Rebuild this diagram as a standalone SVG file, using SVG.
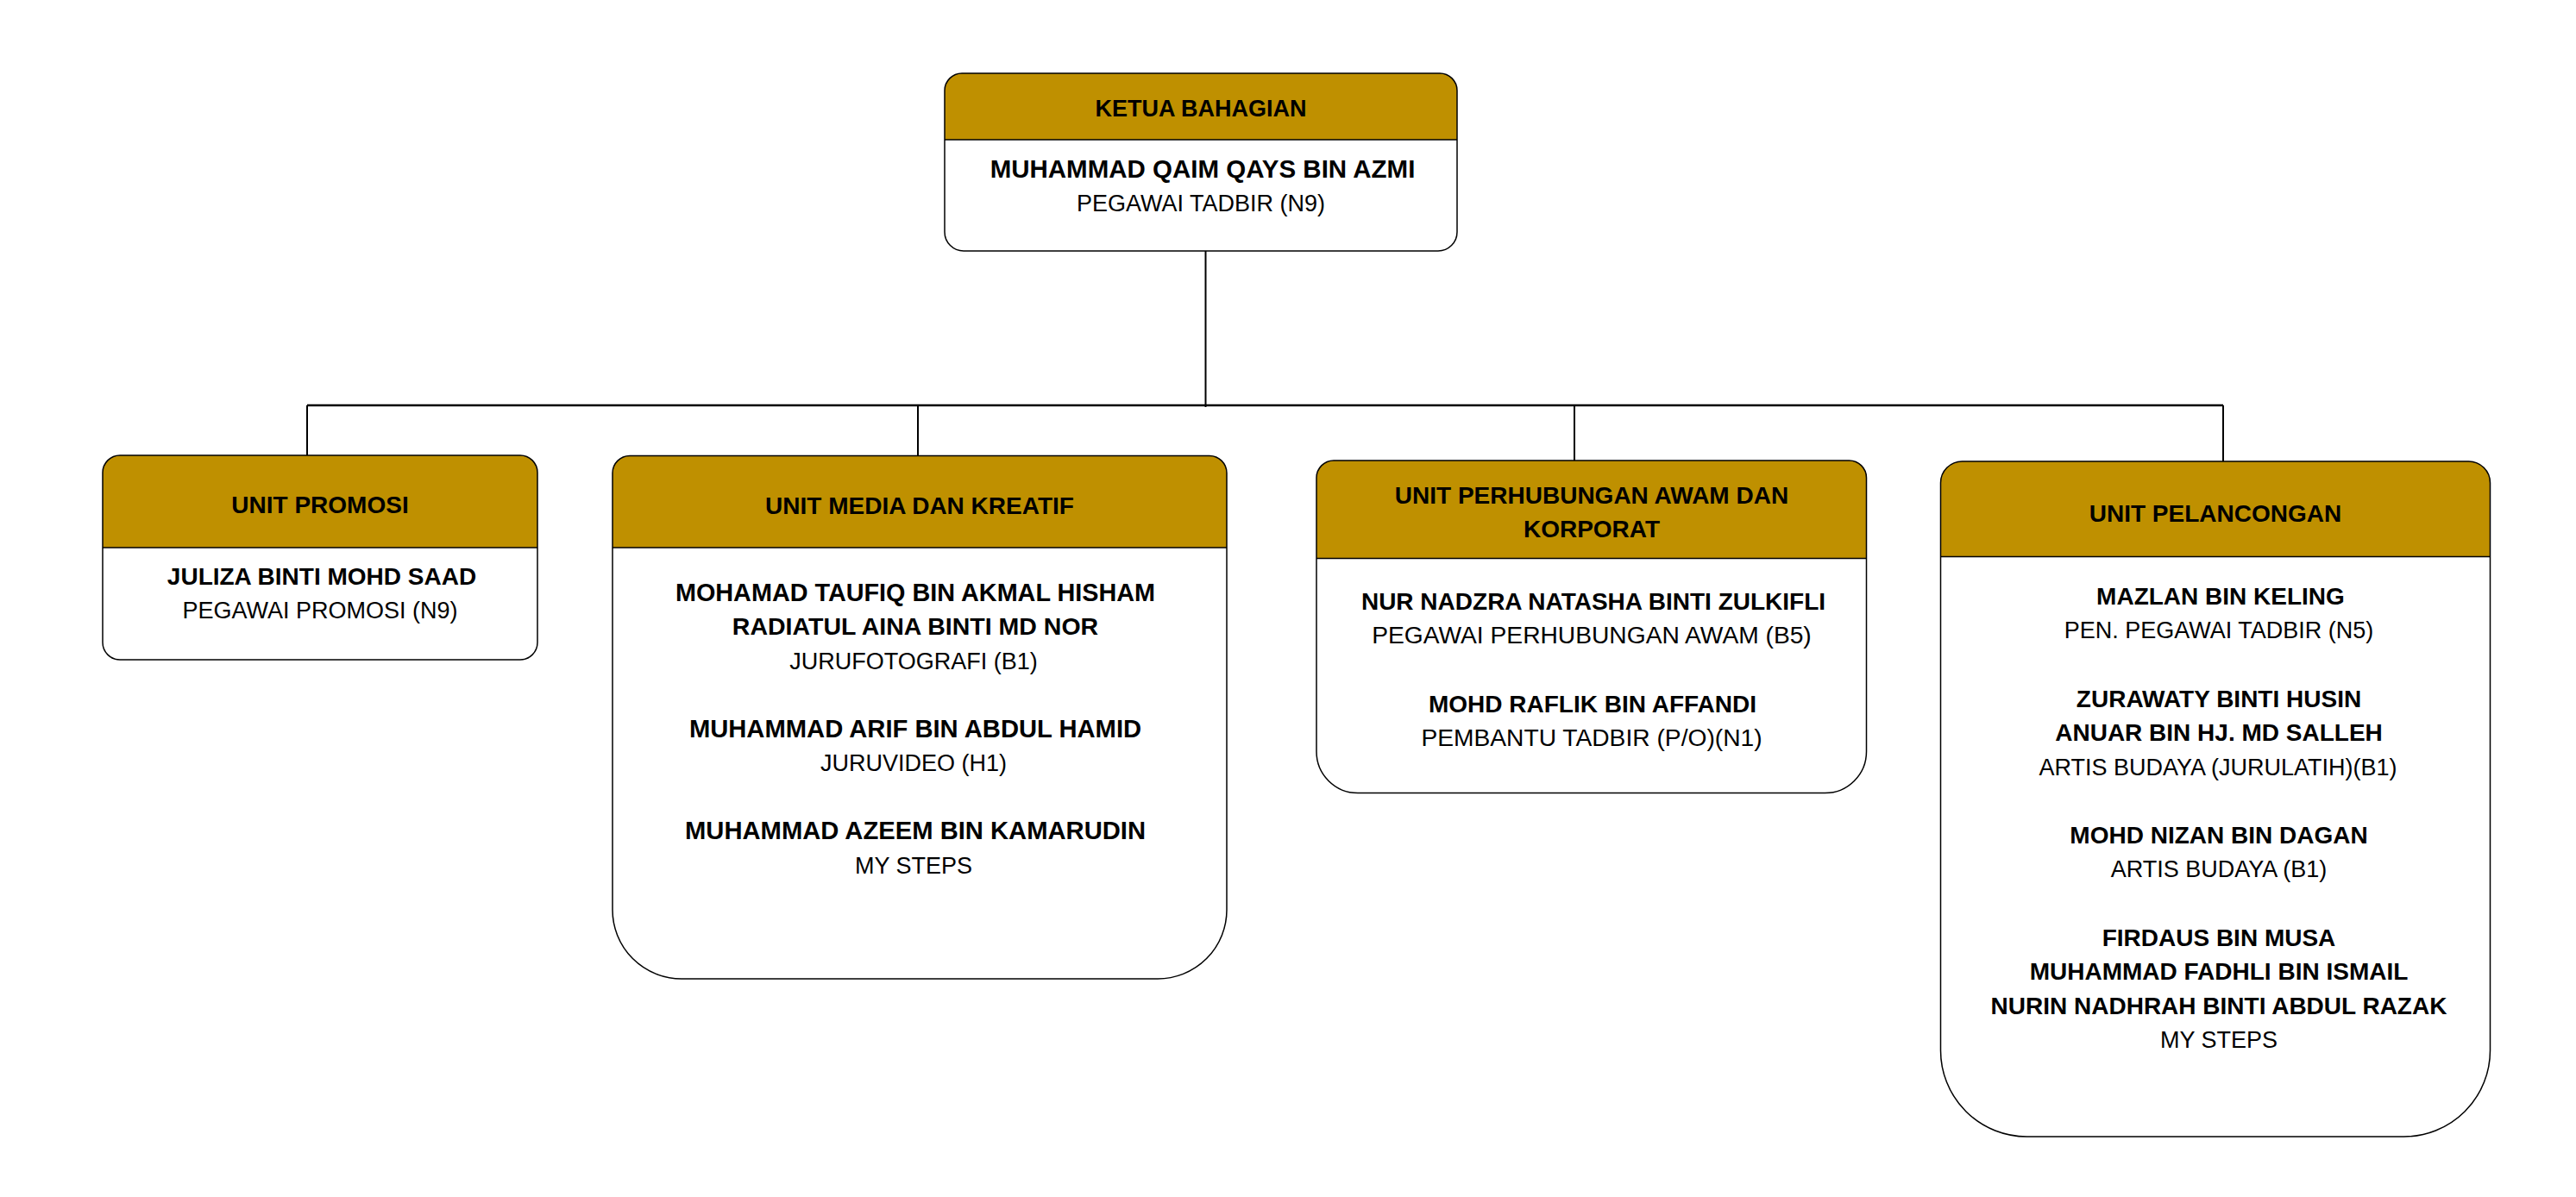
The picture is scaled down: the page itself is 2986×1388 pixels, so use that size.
<svg xmlns="http://www.w3.org/2000/svg" width="2986" height="1388" viewBox="0 0 2986 1388">
<style>
text{font-family:"Liberation Sans",Arial,sans-serif;text-anchor:middle;fill:#000}
.hdr{font-weight:bold;font-size:28px}
.nm{font-weight:bold;font-size:28px}
.rl{font-size:27px}
.head{fill:#BF9000;stroke:none}
.box{fill:none;stroke:#000;stroke-width:1.5}
.sep{stroke:#000;stroke-width:1.5}
.conn{stroke:#000;stroke-width:2;fill:none}
</style>
<rect x="0" y="0" width="2986" height="1388" fill="#fff"/>
<g id="connectors">
<path class="conn" d="M1397.5,291 V472"/>
<path class="conn" style="stroke-width:2.5" d="M356,470 H2577"/>
<path class="conn" d="M356,470 V528"/>
<path class="conn" d="M1064,470 V528.5"/>
<path class="conn" d="M1825,471 V534"/>
<path class="conn" d="M2577,470 V535"/>
</g>
<g id="ketua">
<path class="head" d="M1095,162 V105 A20,20 0 0 1 1115,85 H1669 A20,20 0 0 1 1689,105 V162 Z"/>
<path class="box" d="M1095,105 A20,20 0 0 1 1115,85 H1669 A20,20 0 0 1 1689,105 V269 A22,22 0 0 1 1667,291 H1117 A22,22 0 0 1 1095,269 Z"/>
<path class="sep" d="M1095,162 H1689"/>
<text class="hdr" x="1392" y="135" style="font-size:27px">KETUA BAHAGIAN</text>
<text class="nm" x="1394" y="206" style="font-size:29.5px">MUHAMMAD QAIM QAYS BIN AZMI</text>
<text class="rl" x="1392" y="245">PEGAWAI TADBIR (N9)</text>
</g>
<g id="promosi">
<path class="head" d="M119,635 V548 A20,20 0 0 1 139,528 H603 A20,20 0 0 1 623,548 V635 Z"/>
<path class="box" d="M119,548 A20,20 0 0 1 139,528 H603 A20,20 0 0 1 623,548 V745 A20,20 0 0 1 603,765 H139 A20,20 0 0 1 119,745 Z"/>
<path class="sep" d="M119,635 H623"/>
<text class="hdr" x="371" y="595">UNIT PROMOSI</text>
<text class="nm" x="373" y="678">JULIZA BINTI MOHD SAAD</text>
<text class="rl" x="371" y="717">PEGAWAI PROMOSI (N9)</text>
</g>
<g id="media">
<path class="head" d="M710,635 V548.5 A20,20 0 0 1 730,528.5 H1402 A20,20 0 0 1 1422,548.5 V635 Z"/>
<path class="box" d="M710,548.5 A20,20 0 0 1 730,528.5 H1402 A20,20 0 0 1 1422,548.5 V1055 A80,80 0 0 1 1342,1135 H790 A80,80 0 0 1 710,1055 Z"/>
<path class="sep" d="M710,635 H1422"/>
<text class="hdr" x="1066" y="596">UNIT MEDIA DAN KREATIF</text>
<text class="nm" x="1061" y="697" style="font-size:28.8px">MOHAMAD TAUFIQ BIN AKMAL HISHAM</text>
<text class="nm" x="1061" y="736.4" style="font-size:28.5px">RADIATUL AINA BINTI MD NOR</text>
<text class="rl" x="1059" y="775.8">JURUFOTOGRAFI (B1)</text>
<text class="nm" x="1061" y="854.6" style="font-size:29.2px">MUHAMMAD ARIF BIN ABDUL HAMID</text>
<text class="rl" x="1059" y="894">JURUVIDEO (H1)</text>
<text class="nm" x="1061" y="973" style="font-size:29.2px">MUHAMMAD AZEEM BIN KAMARUDIN</text>
<text class="rl" x="1059" y="1012.5">MY STEPS</text>
</g>
<g id="perhubungan">
<path class="head" d="M1526,647.5 V554 A20,20 0 0 1 1546,534 H2143.5 A20,20 0 0 1 2163.5,554 V647.5 Z"/>
<path class="box" d="M1526,554 A20,20 0 0 1 1546,534 H2143.5 A20,20 0 0 1 2163.5,554 V871.5 A48,48 0 0 1 2115.5,919.5 H1574 A48,48 0 0 1 1526,871.5 Z"/>
<path class="sep" d="M1526,647.5 H2163.5"/>
<text class="hdr" x="1845" y="584.3">UNIT PERHUBUNGAN AWAM DAN</text>
<text class="hdr" x="1845" y="623.3">KORPORAT</text>
<text class="nm" x="1847" y="706.7">NUR NADZRA NATASHA BINTI ZULKIFLI</text>
<text class="rl" x="1845" y="746" style="font-size:28.2px">PEGAWAI PERHUBUNGAN AWAM (B5)</text>
<text class="nm" x="1846" y="825.7">MOHD RAFLIK BIN AFFANDI</text>
<text class="rl" x="1845" y="865" style="font-size:28.2px">PEMBANTU TADBIR (P/O)(N1)</text>
</g>
<g id="pelancongan">
<path class="head" d="M2249.5,645.5 V560 A25,25 0 0 1 2274.5,535 H2861.5 A25,25 0 0 1 2886.5,560 V645.5 Z"/>
<path class="box" d="M2249.5,560 A25,25 0 0 1 2274.5,535 H2861.5 A25,25 0 0 1 2886.5,560 V1218 A100,100 0 0 1 2786.5,1318 H2349.5 A100,100 0 0 1 2249.5,1218 Z"/>
<path class="sep" d="M2249.5,645.5 H2886.5"/>
<text class="hdr" x="2568" y="605">UNIT PELANCONGAN</text>
<text class="nm" x="2574" y="701">MAZLAN BIN KELING</text>
<text class="rl" x="2572" y="740">PEN. PEGAWAI TADBIR (N5)</text>
<text class="nm" x="2572" y="819.5">ZURAWATY BINTI HUSIN</text>
<text class="nm" x="2572" y="859">ANUAR BIN HJ. MD SALLEH</text>
<text class="rl" x="2571" y="898.5">ARTIS BUDAYA (JURULATIH)(B1)</text>
<text class="nm" x="2572" y="978">MOHD NIZAN BIN DAGAN</text>
<text class="rl" x="2572" y="1017">ARTIS BUDAYA (B1)</text>
<text class="nm" x="2572" y="1096.5">FIRDAUS BIN MUSA</text>
<text class="nm" x="2572" y="1136">MUHAMMAD FADHLI BIN ISMAIL</text>
<text class="nm" x="2572" y="1175.5">NURIN NADHRAH BINTI ABDUL RAZAK</text>
<text class="rl" x="2572" y="1215">MY STEPS</text>
</g>
</svg>
